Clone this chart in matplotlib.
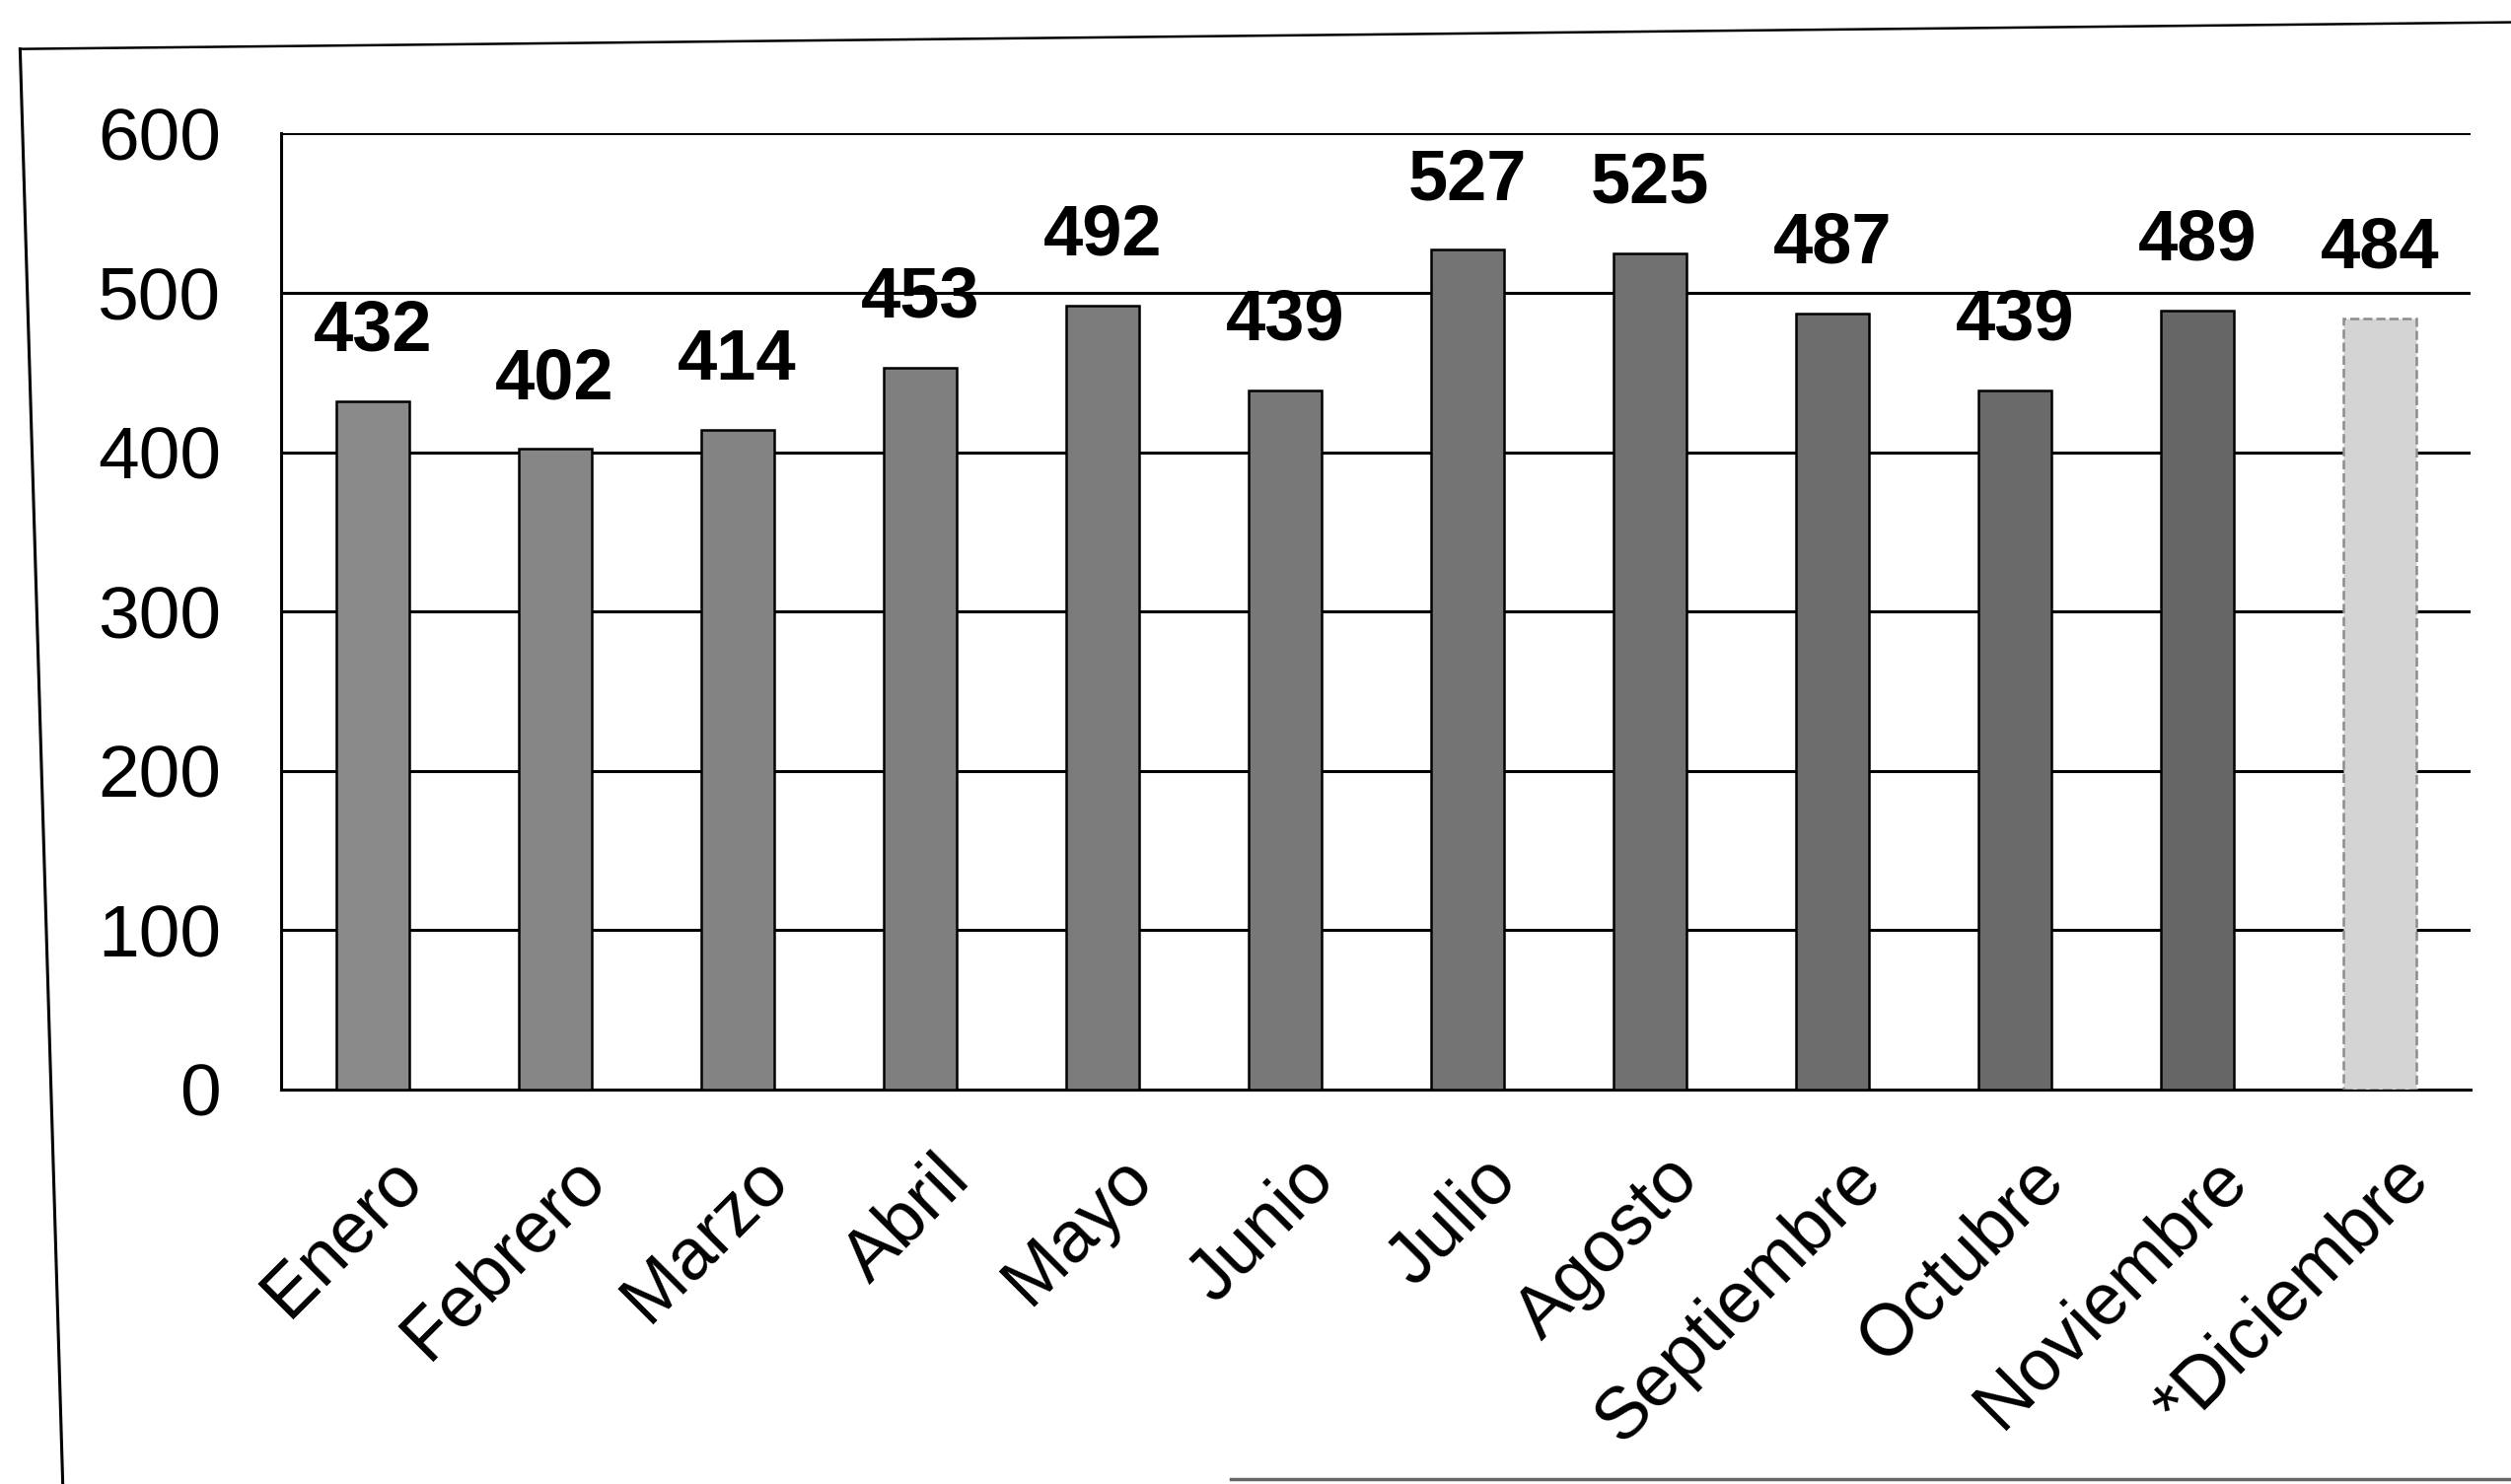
#Monthly totals bar chart (scanned report figure)

import numpy as np
import matplotlib.pyplot as plt
from matplotlib.lines import Line2D
from matplotlib.transforms import ScaledTranslation

plt.rcParams['font.family'] = ['Liberation Sans', 'DejaVu Sans']

meses = ['Enero', 'Febrero', 'Marzo', 'Abril', 'Mayo', 'Junio', 'Julio',
         'Agosto', 'Septiembre', 'Octubre', 'Noviembre', '*Diciembre']
valores = [432, 402, 414, 453, 492, 439, 527, 525, 487, 439, 489, 484]
yticks = [0, 100, 200, 300, 400, 500, 600]

fig = plt.figure(figsize=(25.46, 15.05), dpi=100)
ax = fig.add_axes([0.112, 0.266, 0.872, 0.644])

# scan gets darker toward the right, last month is an estimate (light bar)
grises = [str(g) for g in np.linspace(0.54, 0.40, 11)] + ['0.83']
bordes = ['black'] * 11 + ['0.55']
x = np.arange(len(meses))
bars = ax.bar(x, valores, width=0.4, color=grises, edgecolor=bordes,
              linewidth=1.8, zorder=3)
bars[-1].set_linestyle('--')

for xi, v in zip(x, valores):
    ax.annotate(str(v), (xi, v), xytext=(0, 26), textcoords='offset points',
                ha='center', va='bottom', fontsize=52, fontweight='bold')

ax.set_xlim(-0.5, 11.5)
ax.set_ylim(0, 600)
ax.set_yticks(yticks)
ax.set_yticklabels([str(t) for t in yticks])
ax.yaxis.grid(True, color='black', linewidth=2.2, zorder=0)
ax.set_axisbelow(True)
ax.tick_params(axis='y', length=0, pad=44, labelsize=54)
ax.tick_params(axis='x', length=0, pad=40, labelsize=53)
ax.set_xticks(x)
ax.set_xticklabels(meses, rotation=45, ha='right', rotation_mode='anchor')
desplaza = ScaledTranslation(0.15, 0, fig.dpi_scale_trans)
for lab in ax.get_xticklabels():
    lab.set_transform(lab.get_transform() + desplaza)

for s in ['top', 'right']:
    ax.spines[s].set_visible(False)
for s in ['left', 'bottom']:
    ax.spines[s].set_linewidth(2.2)

# outer chart frame
fig.add_artist(Line2D([0.008, 0.025], [0.967, 0.0], color='black', lw=2.2))
fig.add_artist(Line2D([0.008, 1.0], [0.967, 0.985], color='black', lw=1.8))
fig.add_artist(Line2D([0.49, 1.0], [0.003, 0.003], color='0.4', lw=2.5))

fig.savefig('out.png', dpi=100, facecolor='white')
